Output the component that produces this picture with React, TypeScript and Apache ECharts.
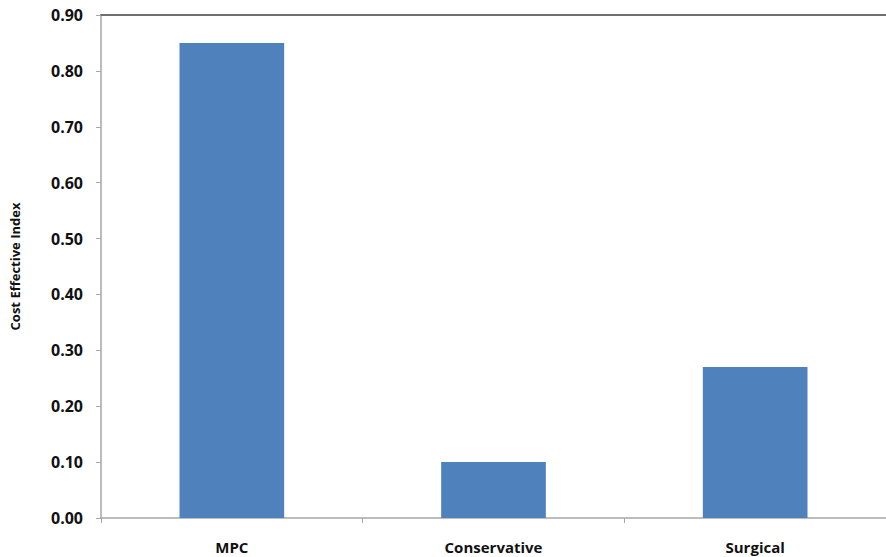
import React, { useEffect, useRef } from "react";
import * as echarts from "echarts";

const categories = ["MPC", "Conservative", "Surgical"];
const values = [0.85, 0.1, 0.27];
const yMin = 0;
const yMax = 0.9;
const yInterval = 0.1;

export default function App() {
  const ref = useRef<HTMLDivElement>(null);
  useEffect(() => {
    document.body.style.margin = "0";
    const chart = echarts.init(ref.current!, null, { renderer: "svg" });
    const font = "'Open Sans', 'Liberation Sans', sans-serif";
    chart.setOption({
      animation: false,
      backgroundColor: "#ffffff",
      grid: { left: 98, right: 0, top: 15, bottom: 39, containLabel: false },
      xAxis: [
        {
          type: "category",
          data: categories,
          position: "bottom",
          axisLine: { lineStyle: { color: "#a6a6a6", width: 1.5 } },
          axisTick: { show: true, length: 5, lineStyle: { color: "#a6a6a6" } },
          axisLabel: {
            margin: 21,
            fontFamily: font,
            fontWeight: "bold",
            fontSize: 15,
            color: "#111",
          },
        },
        {
          type: "category",
          data: categories,
          position: "top",
          axisLine: { show: true, lineStyle: { color: "#6e6e6e", width: 2 } },
          axisTick: { show: false },
          axisLabel: { show: false },
        },
      ],
      yAxis: {
        type: "value",
        min: yMin,
        max: yMax,
        interval: yInterval,
        name: "Cost Effective Index",
        nameLocation: "middle",
        nameRotate: 90,
        nameGap: 80,
        nameTextStyle: {
          fontFamily: font,
          fontWeight: "bold",
          fontSize: 13,
          color: "#111",
        },
        axisLine: { show: true, lineStyle: { color: "#a6a6a6", width: 1.5 } },
        axisTick: { show: true, length: 5, lineStyle: { color: "#a6a6a6" } },
        splitLine: { show: false },
        axisLabel: {
          margin: 18,
          fontFamily: font,
          fontWeight: "bold",
          fontSize: 16,
          color: "#111",
          formatter: (v: number) => v.toFixed(2),
        },
      },
      series: [
        {
          type: "bar",
          data: values,
          xAxisIndex: 0,
          barWidth: "40%",
          itemStyle: { color: "#4f81bd" },
        },
      ],
    });
    return () => chart.dispose();
  }, []);
  return <div ref={ref} style={{ width: 886, height: 557 }} />;
}
